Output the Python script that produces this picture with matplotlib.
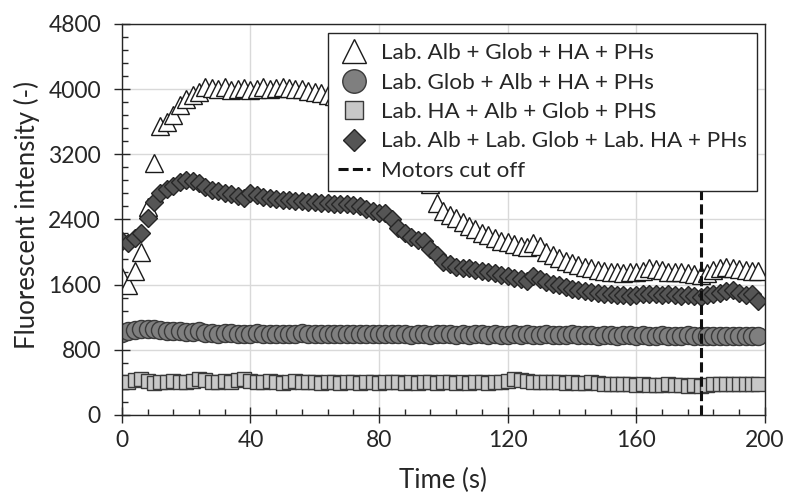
import matplotlib
matplotlib.use('Agg')
import matplotlib.pyplot as plt
from matplotlib.ticker import MultipleLocator
import numpy as np

plt.rcParams['font.family'] = ['Lato', 'DejaVu Sans']

time_s = np.arange(0, 200, 2)

alb_glob_ha = [1690, 1600, 1770, 2000, 2550, 3090, 3550, 3600, 3680, 3800,
               3880, 3930, 3960, 4030, 4010, 4000, 4020, 3990, 4000, 4010,
               3990, 4000, 4020, 4000, 4010, 4030, 4010, 4000, 4000, 3980,
               3960, 3950, 3930, 3920, 3900, 3880, 3850, 3800, 3740, 3680,
               3600, 3520, 3420, 3320, 3220, 3120, 3020, 2950, 2830, 2600,
               2500, 2460, 2420, 2370, 2320, 2280, 2240, 2210, 2170, 2140,
               2120, 2100, 2080, 2060, 2110, 2070, 2000, 1960, 1930, 1890,
               1860, 1840, 1820, 1800, 1780, 1770, 1760, 1750, 1740, 1760,
               1750, 1770, 1800, 1790, 1780, 1760, 1750, 1760, 1740, 1730,
               1720, 1740, 1780, 1800, 1820, 1800, 1790, 1780, 1770, 1770]

glob_alb_ha = [1010, 1030, 1040, 1050, 1055, 1050, 1040, 1035, 1030, 1025,
               1020, 1015, 1030, 1010, 1005, 1000, 1005, 1010, 1000, 995,
               1000, 1005, 1000, 995, 1000, 1000, 995, 1000, 1005, 1000,
               995, 990, 1000, 995, 1000, 995, 990, 1000, 995, 990,
               995, 1000, 990, 995, 990, 985, 995, 990, 985, 990,
               995, 990, 985, 990, 985, 990, 995, 985, 990, 985,
               980, 990, 985, 990, 980, 985, 990, 985, 980, 985,
               990, 980, 985, 980, 975, 985, 980, 975, 980, 985,
               975, 980, 975, 970, 980, 975, 970, 975, 980, 970,
               975, 970, 975, 970, 975, 970, 965, 970, 965, 965]

ha_alb_glob = [400, 410, 430, 440, 420, 390, 400, 410, 420, 400,
               410, 420, 440, 430, 410, 400, 420, 410, 430, 440,
               420, 400, 410, 420, 400, 395, 410, 420, 400, 410,
               400, 390, 410, 400, 395, 410, 400, 390, 400, 410,
               395, 400, 410, 400, 390, 400, 395, 405, 400, 390,
               400, 410, 395, 400, 390, 405, 400, 395, 410, 400,
               420, 440, 430, 420, 410, 405, 400, 410, 400, 395,
               400, 390, 395, 400, 390, 380, 385, 380, 375, 380,
               370, 375, 370, 365, 370, 375, 365, 370, 360, 365,
               360, 370, 375, 380, 375, 380, 385, 380, 385, 385]

all_labeled = [2140, 2110, 2170, 2240, 2420, 2610, 2730, 2770, 2810, 2860,
               2890, 2870, 2850, 2800, 2760, 2750, 2730, 2710, 2690, 2660,
               2730, 2700, 2680, 2660, 2650, 2640, 2640, 2630, 2630, 2620,
               2610, 2600, 2600, 2590, 2590, 2590, 2580, 2560, 2530, 2500,
               2480, 2480, 2400, 2300, 2240, 2180, 2150, 2130, 2040, 1960,
               1880, 1850, 1820, 1800, 1800, 1780, 1770, 1750, 1740, 1720,
               1700, 1680, 1670, 1650, 1710, 1670, 1630, 1610, 1590, 1570,
               1550, 1540, 1520, 1510, 1500, 1490, 1480, 1470, 1470, 1460,
               1470, 1480, 1490, 1480, 1470, 1480, 1470, 1460, 1470, 1460,
               1450, 1470, 1490, 1500, 1520, 1530, 1500, 1470, 1490, 1400]

labels = ['Lab. Alb + Glob + HA + PHs',
          'Lab. Glob + Alb + HA + PHs',
          'Lab. HA + Alb + Glob + PHS',
          'Lab. Alb + Lab. Glob + Lab. HA + PHs',
          'Motors cut off']
cut_off_time = 180

fig = plt.figure(figsize=(7.86, 4.98), dpi=100)
ax = fig.add_axes([0.155, 0.1667, 0.8181, 0.7852])

ax.plot(time_s, alb_glob_ha, ls='none', marker='^', ms=13.5, mfc='white',
        mec='#1a1a1a', mew=1.0, label=labels[0])
ax.plot(time_s, glob_alb_ha, ls='none', marker='o', ms=13, mfc='#7f7f7f',
        mec='#3a3a3a', mew=1.0, label=labels[1])
ax.plot(time_s, ha_alb_glob, ls='none', marker='s', ms=10, mfc='#c8c8c8',
        mec='#3a3a3a', mew=1.0, label=labels[2])
ax.plot(time_s, all_labeled, ls='none', marker='D', ms=8.7, mfc='#555555',
        mec='#262626', mew=1.0, label=labels[3])
# motors cut off: dashed marker line at t = 180 s, running up under the legend
ax.vlines(cut_off_time, 0, 3200, colors='#111111', linestyles=(0, (3.3, 1.4)),
          lw=2.2, label=labels[4])

ax.set_xlim(0, 200)
ax.set_ylim(0, 4800)
ax.xaxis.set_major_locator(MultipleLocator(40))
ax.xaxis.set_minor_locator(MultipleLocator(8))
ax.yaxis.set_major_locator(MultipleLocator(800))
ax.yaxis.set_minor_locator(MultipleLocator(160))
ax.grid(which='major', color='#d9d9d9', lw=1.0)
ax.set_axisbelow(True)

ax.tick_params(which='major', direction='inout', length=12, width=1.0,
               color='#262626', labelsize=16.5, labelcolor='#262626')
ax.tick_params(axis='y', which='major', pad=9)
ax.tick_params(axis='x', which='major', pad=5)
ax.tick_params(which='minor', direction='in', length=4, width=1.0, color='#262626')
for spine in ax.spines.values():
    spine.set_color('#262626')
    spine.set_linewidth(1.0)

ax.set_xlabel('Time (s)', fontsize=18.5, color='#262626')
ax.set_ylabel('Fluorescent intensity (-)', fontsize=18.5, color='#262626')
ax.xaxis.set_label_coords(0.5, -0.135)
ax.yaxis.set_label_coords(-0.127, 0.512)

leg = ax.legend(loc='upper right', bbox_to_anchor=(0.9876, 0.977),
                borderaxespad=0, fontsize=16.2, frameon=True, fancybox=False,
                framealpha=1, edgecolor='#262626', markerscale=1.3,
                handlelength=1.4, handletextpad=0.5, labelspacing=0.42,
                borderpad=0.45)
leg.get_frame().set_linewidth(1.0)
for text in leg.get_texts():
    text.set_color('#262626')

fig.savefig('out.png', dpi=100)
